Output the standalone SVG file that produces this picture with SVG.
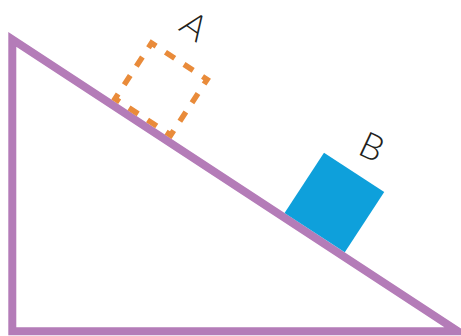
<svg xmlns="http://www.w3.org/2000/svg" width="461" height="336" viewBox="0 0 461 336">
  <style>
    .ramp { fill: none; stroke: #b47cb8; stroke-width: 8; stroke-linejoin: miter; stroke-miterlimit: 10; }
    .ghost { fill: none; stroke: #e98b3a; stroke-width: 5.5; stroke-linejoin: miter; stroke-dasharray: 11 11.17; stroke-dashoffset: 16.58; }
    .block { fill: #0ea0db; }
    .lbl { font-family: Lato, "Liberation Sans", sans-serif; font-weight: 300; font-size: 36px; fill: #231f20; text-anchor: middle; }
  </style>
  <rect width="461" height="336" fill="#ffffff"/>
  <g id="ramp">
    <path class="ramp" d="M12.3,39.5 L12.3,331.3 L458,331.3 Z"/>
  </g>
  <g id="block-A">
    <path class="ghost" transform="translate(161.1,89.1) rotate(33.2)" d="M0,-33.25 H33.25 V33.25 H-33.25 V-33.25 Z"/>
    <text class="lbl" transform="translate(194.6,25.5) rotate(35)" x="0" y="13">A</text>
  </g>
  <g id="block-B">
    <rect class="block" transform="translate(334.4,202.5) rotate(33.2)" x="-36" y="-36" width="72" height="72"/>
    <text class="lbl" transform="translate(372,146.5) rotate(25)" x="0" y="13">B</text>
  </g>
</svg>
